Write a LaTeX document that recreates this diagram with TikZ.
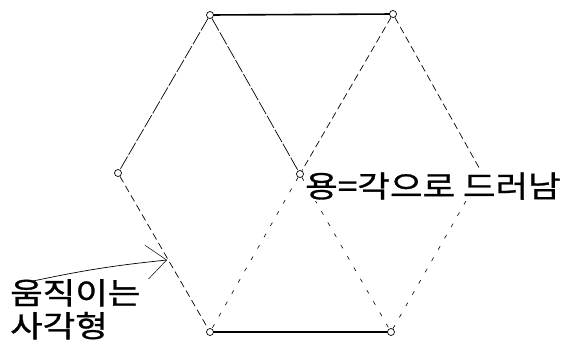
\documentclass[tikz,border=0pt]{standalone}
\usepackage{fontspec}
\newfontfamily\kofont[FakeStretch=1.18, FakeBold=1]{Noto Sans CJK KR}
\usetikzlibrary{arrows.meta,calc}

\begin{document}
\begin{tikzpicture}[x=1pt, y=-1pt,
  vtx/.style={circle, draw, fill=white, line width=0.7pt, inner sep=0pt, minimum size=7pt},
  rim/.style={line width=1.6pt},
  thinline/.style={line width=0.7pt, dash pattern=on 14pt off 2pt},
  dashline/.style={line width=0.7pt, dash pattern=on 7pt off 4pt},
  sparse/.style={line width=0.6pt, dash pattern=on 4pt off 9pt},
  lbl/.style={font=\kofont\fontsize{30}{33}\selectfont, inner sep=1pt},
  pointer/.style={line width=0.7pt, -{Straight Barb[length=20pt, width=34pt, line width=0.5pt]}}]
\useasboundingbox (0,0) rectangle (565,341);
% hexagon corners and centre
\coordinate (r) at (482,173);
\coordinate (tip) at (167,260);
\coordinate (tail) at (33,281);
% edges
\draw[rim] (210,15) coordinate (tlp) -- (393,14) coordinate (trp);
\draw[rim] (210,332) coordinate (blp) -- (391,332) coordinate (brp);
\node[vtx] (tl) at (tlp) {};
\node[vtx] (tr) at (trp) {};
\node[vtx] (bl) at (blp) {};
\node[vtx] (br) at (brp) {};
\node[vtx] (l) at (118,173) {};
\node[vtx] (c) at (300,174) {};
\draw[thinline] (tl) -- (l);
\draw[thinline] (tl) -- (c);
\draw[dashline] (tr) -- (c);
\draw[dashline] (tr) -- (r);
\draw[dashline] (l) -- (bl);
\draw[sparse] (c) -- (bl);
\draw[sparse] (c) -- (br);
\draw[sparse] (br) -- (r);
% labels
\node[lbl, fill=white, anchor=west] (angle) at (304,186) {용=각으로 드러남};
\node[lbl, align=left, anchor=north west] (square) at (9,278) {움직이는\\사각형};
\draw[pointer] (tail) to[bend left=3] (tip);
\end{tikzpicture}
\end{document}
